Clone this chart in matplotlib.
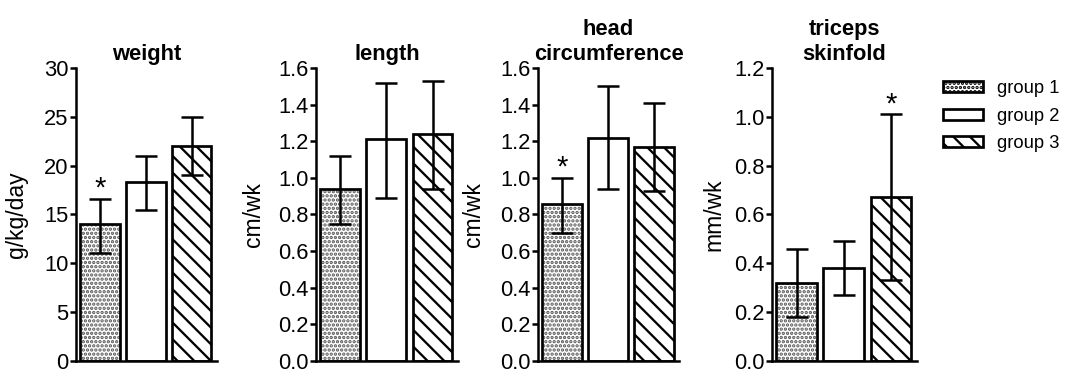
import numpy as np
import matplotlib
matplotlib.use("Agg")
import matplotlib.pyplot as plt
from matplotlib.patches import Patch

plt.rcParams["font.family"] = ["Liberation Sans", "DejaVu Sans"]
plt.rcParams["hatch.linewidth"] = 1.1

# Growth velocity per group (mean, lower/upper error bar ends)
groups = ["group 1", "group 2", "group 3"]
panels = ["weight", "length", "head\ncircumference", "triceps\nskinfold"]
units = ["g/kg/day", "cm/wk", "cm/wk", "mm/wk"]

weight_mean = [14.0, 18.3, 22.0]
weight_lo = [11.1, 15.5, 19.0]
weight_hi = [16.6, 21.0, 25.0]

length_mean = [0.94, 1.21, 1.24]
length_lo = [0.75, 0.89, 0.94]
length_hi = [1.12, 1.52, 1.53]

head_mean = [0.855, 1.22, 1.17]
head_lo = [0.70, 0.94, 0.93]
head_hi = [1.00, 1.50, 1.41]

triceps_mean = [0.32, 0.38, 0.67]
triceps_lo = [0.18, 0.27, 0.33]
triceps_hi = [0.46, 0.49, 1.01]

# significant bars (index of group marked with *)
signif = [[0], [], [0], [2]]

y_max = [30, 1.6, 1.6, 1.2]
y_step = [5, 0.2, 0.2, 0.2]
y_fmt = ["{:.0f}", "{:.1f}", "{:.1f}", "{:.1f}"]

means = [weight_mean, length_mean, head_mean, triceps_mean]
lows = [weight_lo, length_lo, head_lo, triceps_lo]
highs = [weight_hi, length_hi, head_hi, triceps_hi]

hatches = ["......", "", "\\\\\\"]
hatch_cols = ["#555555", "black", "black"]

DPI = 150
fig = plt.figure(figsize=(1069 / DPI, 373 / DPI), dpi=DPI)

lefts = [0.0711, 0.2956, 0.5033, 0.7222]
widths = [0.1319, 0.1328, 0.1319, 0.1356]
label_x = [-0.34, -0.36, -0.375, -0.32]
bottom, height = 0.0322, 0.7855

x = np.arange(len(groups))
for i in range(4):
    ax = fig.add_axes([lefts[i], bottom, widths[i], height])
    m = np.array(means[i])
    lo = np.array(lows[i])
    hi = np.array(highs[i])
    for j in range(3):
        # hatch layer, then black outline on top
        ax.bar(x[j], m[j], width=0.86, color="white", edgecolor=hatch_cols[j],
               hatch=hatches[j], linewidth=0, zorder=2)
        ax.bar(x[j], m[j], width=0.86, color="none", edgecolor="black",
               linewidth=1.3, zorder=3)
    ax.errorbar(x, m, yerr=[m - lo, hi - m], fmt="none", ecolor="black",
                elinewidth=1.2, capsize=5.3, capthick=1.2, zorder=4)
    for j in signif[i]:
        ax.annotate("*", (x[j], hi[j]), xytext=(0, 1), textcoords="offset points",
                    ha="center", va="baseline", fontsize=14)
    ax.set_xlim(-0.52, 2.55)
    ax.set_ylim(0, y_max[i])
    ticks = np.arange(0, y_max[i] + y_step[i] / 2, y_step[i])
    ax.set_yticks(ticks)
    ax.set_yticklabels([y_fmt[i].format(t) for t in ticks])
    ax.set_xticks([])
    ax.spines["top"].set_visible(False)
    ax.spines["right"].set_visible(False)
    ax.spines["left"].set_linewidth(1.2)
    ax.spines["bottom"].set_linewidth(1.2)
    ax.tick_params(axis="y", length=3, width=1.2, labelsize=10.5, pad=0.5)
    ax.set_title(panels[i], fontsize=10.5, fontweight="bold", pad=4.0, linespacing=1.25)
    ax.set_ylabel(units[i], fontsize=11)
    ax.yaxis.set_label_coords(label_x[i], 0.5)

handles = [Patch(facecolor="white", edgecolor="black", hatch=hatches[j], linewidth=1.3)
           for j in range(3)]
leg = fig.legend(handles, groups, loc="upper left", bbox_to_anchor=(0.882, 0.785),
                 frameon=False, fontsize=8.8, handlelength=2.2, handleheight=0.55,
                 handletextpad=0.76, labelspacing=0.58, borderpad=0, borderaxespad=0)

fig.savefig("out.png", dpi=DPI)
